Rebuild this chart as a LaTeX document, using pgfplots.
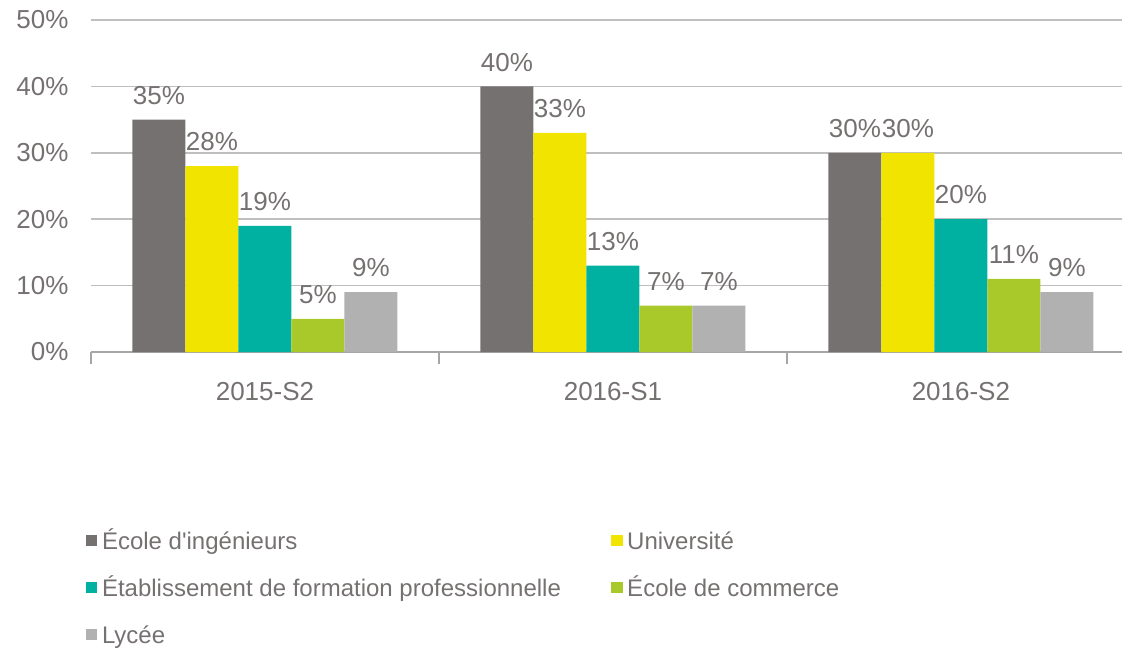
\documentclass[border=0pt]{standalone}
\usepackage{fontspec}
\setmainfont{Liberation Sans}[Ligatures=TeXOff]
\usepackage{pgfplots}
\pgfplotsset{compat=1.18}
\definecolor{txt}{RGB}{118,113,113}
\definecolor{gridc}{RGB}{191,191,191}
\definecolor{axisc}{RGB}{166,166,166}
\definecolor{c1}{RGB}{118,113,113}
\definecolor{c2}{RGB}{240,228,0}
\definecolor{c3}{RGB}{0,176,160}
\definecolor{c4}{RGB}{169,201,42}
\definecolor{c5}{RGB}{177,177,177}
\begin{document}
\begin{tikzpicture}
\useasboundingbox (0,0) rectangle (561pt,324pt);
\begin{axis}[
  at={(45.5pt,148pt)}, anchor=south west,
  scale only axis, width=515.5pt, height=166pt,
  xmin=-0.5, xmax=2.463, ymin=0, ymax=50,
  ybar=0pt, bar width=26.5pt,
  axis x line*=bottom, axis y line*=left,
  x axis line style={draw=axisc, line width=0.75pt, -},
  y axis line style={draw=none},
  /pgf/number format/assume math mode=true,
  ytick={0,10,20,30,40,50},
  yticklabel={\pgfmathprintnumber{\tick}\%},
  yticklabel style={xshift=-7.7pt},
  ymajorgrids, major grid style={draw=gridc, line width=0.75pt},
  ytick style={draw=none},
  xtick={0,1,2}, xticklabels={2015-S2,2016-S1,2016-S2},
  xticklabel style={yshift=-7.5pt},
  xtick style={draw=none},
  extra x ticks={-0.5,0.5,1.5}, extra x tick labels={},
  extra x tick style={grid=none, major tick length=6pt, tick align=outside, xtick style={draw=axisc, line width=0.75pt}},
  tick label style={font=\fontsize{13}{15}\selectfont, text=txt},
  nodes near coords={\pgfmathprintnumber{\pgfplotspointmeta}\%},
  nodes near coords style={font=\fontsize{13}{15}\selectfont, text=txt, yshift=4pt},
  legend columns=2, legend cell align=left,
  legend image code/.code={\fill[#1] (0pt,-2.9pt) rectangle (5.8pt,2.9pt);},
  legend style={draw=none, fill=none, inner sep=0pt, outer sep=0pt,
    at={(-0.005,-0.497)}, anchor=north west,
    font=\fontsize{12}{14}\selectfont, text=txt,
    column sep=0pt, row sep=0pt,
    /tikz/every odd column/.style={column sep=2.3pt},
    nodes={inner xsep=0pt, inner ysep=0pt, text height=16pt, text depth=7.5pt}},
]
\addplot[fill=c1, draw=none] coordinates {(0,35) (1,40) (2,30)};
\addlegendentry{\makebox[254.5pt][l]{École d'ingénieurs}}
\addplot[fill=c2, draw=none] coordinates {(0,28) (1,33) (2,30)};
\addlegendentry{Université}
\addplot[fill=c3, draw=none] coordinates {(0,19) (1,13) (2,20)};
\addlegendentry{\makebox[254.5pt][l]{Établissement de formation professionnelle}}
\addplot[fill=c4, draw=none] coordinates {(0,5) (1,7) (2,11)};
\addlegendentry{École de commerce}
\addplot[fill=c5, draw=none] coordinates {(0,9) (1,7) (2,9)};
\addlegendentry{Lycée}
\end{axis}
\end{tikzpicture}
\end{document}
